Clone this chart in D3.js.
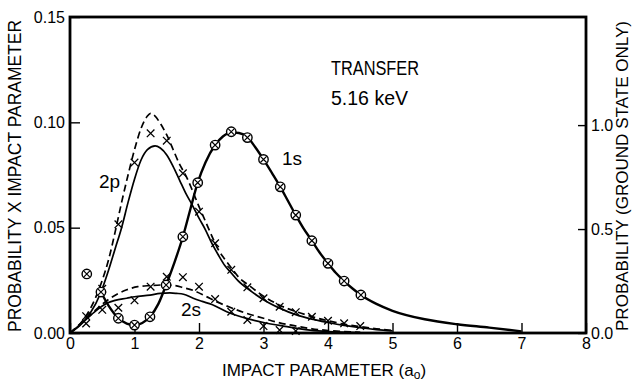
<!DOCTYPE html>
<html><head><meta charset="utf-8">
<script src="https://cdn.jsdelivr.net/npm/d3@7"></script>
<style>body{margin:0;background:#fff}svg{display:block}text{font-family:"Liberation Sans",Arial,sans-serif;fill:#000}</style>
</head><body><svg id="c" width="634" height="383"></svg>
<script>
// ---- data ----
const xTicks = [0,1,2,3,4,5,6,7,8];
const yLeftTicks = [0,0.05,0.10,0.15];
const yRightTicks = [0,0.5,1.0];
// 2p (P x b, left axis)
const p2Solid = [[0,0],[0.2,0.005],[0.4,0.014],[0.5,0.021],[0.6,0.030],[0.7,0.040],[0.8,0.050],[0.9,0.062],[1.0,0.073],[1.1,0.082],[1.2,0.087],[1.32,0.0888],[1.4,0.0878],[1.5,0.0845],[1.6,0.079],[1.7,0.0725],[1.8,0.066],[1.9,0.0605],[2.0,0.0545],[2.1,0.049],[2.2,0.0425],[2.3,0.037],[2.4,0.032],[2.5,0.0285],[2.6,0.025],[2.8,0.020],[3.0,0.0158],[3.25,0.0118],[3.5,0.0087],[3.75,0.0066],[4.0,0.005],[4.25,0.0036],[4.5,0.0025],[4.75,0.0016],[5.0,0.001]];
const p2Dashed = [[0,0],[0.2,0.006],[0.4,0.017],[0.5,0.025],[0.6,0.035],[0.7,0.048],[0.8,0.062],[0.9,0.075],[1.0,0.087],[1.1,0.097],[1.2,0.103],[1.25,0.1043],[1.3,0.1035],[1.4,0.0995],[1.5,0.094],[1.6,0.087],[1.7,0.080],[1.8,0.0745],[1.9,0.0675],[2.0,0.060],[2.1,0.053],[2.2,0.046],[2.3,0.0395],[2.4,0.035],[2.5,0.031],[2.6,0.027],[2.8,0.022],[3.0,0.0175],[3.25,0.0132],[3.5,0.0102],[3.75,0.0078],[4.0,0.0058],[4.25,0.0042],[4.5,0.0030],[4.75,0.002],[5.0,0.0012]];
const p2Cross = [[0.25,0.008],[0.5,0.021],[0.75,0.0516],[1.0,0.0809],[1.25,0.0948],[1.5,0.0913],[1.75,0.0758],[2.0,0.0576],[2.25,0.0426],[2.5,0.030],[2.75,0.0217],[3.0,0.0165],[3.25,0.0125],[3.5,0.0099],[3.75,0.0077],[4.0,0.0058],[4.25,0.0046],[4.5,0.0033]];
// 2s (P x b, left axis)
const s2Solid = [[0,0],[0.2,0.005],[0.4,0.0105],[0.57,0.0141],[0.7,0.0155],[0.88,0.0165],[1.0,0.0172],[1.24,0.018],[1.4,0.0188],[1.55,0.019],[1.65,0.0188],[1.76,0.0184],[1.91,0.0165],[2.05,0.015],[2.2,0.0135],[2.43,0.0101],[2.6,0.0082],[2.75,0.0068],[3.0,0.005],[3.31,0.0033],[3.72,0.0014],[4.0,0.0007],[4.5,0.0002]];
const s2Dashed = [[0,0],[0.2,0.0055],[0.4,0.011],[0.6,0.016],[0.88,0.0205],[1.05,0.022],[1.24,0.0225],[1.45,0.0228],[1.6,0.0226],[1.76,0.0215],[1.91,0.0202],[2.1,0.0175],[2.27,0.0149],[2.48,0.0122],[2.69,0.0098],[3.0,0.007],[3.25,0.0048],[3.51,0.0033],[3.75,0.002],[4.0,0.0012],[4.5,0.0003]];
const s2Cross = [[0.25,0.0045],[0.5,0.011],[0.75,0.012],[1.0,0.0155],[1.25,0.022],[1.5,0.0267],[1.75,0.0265],[2.0,0.022],[2.25,0.0161],[2.5,0.0101],[2.75,0.0062],[3.0,0.0033],[3.25,0.0014],[3.5,0.001]];
// 1s (probability, right axis)
const s1Line = [[0.48,0.197],[0.6,0.13],[0.75,0.071],[0.88,0.045],[1.0,0.038],[1.12,0.048],[1.24,0.078],[1.37,0.14],[1.49,0.231],[1.62,0.34],[1.75,0.463],[1.87,0.6],[1.98,0.723],[2.1,0.82],[2.25,0.904],[2.37,0.945],[2.5,0.965],[2.62,0.962],[2.75,0.942],[2.87,0.895],[3.0,0.835],[3.13,0.77],[3.26,0.703],[3.38,0.635],[3.5,0.567],[3.62,0.503],[3.75,0.444],[3.87,0.387],[4.0,0.335],[4.12,0.29],[4.25,0.25],[4.38,0.214],[4.51,0.183],[4.75,0.14],[5.0,0.107],[5.5,0.066],[6.0,0.042],[6.5,0.026],[7.0,0.008]];
const s1Marks = [[0.26,0.284],[0.48,0.197],[0.75,0.071],[1.0,0.038],[1.24,0.078],[1.49,0.231],[1.75,0.463],[1.98,0.723],[2.25,0.904],[2.5,0.968],[2.75,0.94],[3.0,0.835],[3.26,0.703],[3.5,0.567],[3.75,0.444],[4.0,0.335],[4.25,0.25],[4.51,0.183]];

// ---- chart ----
const svg = d3.select("#c");
const x = d3.scaleLinear().domain([0,8]).range([70,586]);
const yL = d3.scaleLinear().domain([0,0.15]).range([333,17]);
const yR = d3.scaleLinear().domain([0,1.52]).range([333,17]);

const fs = 16;
const gx = svg.append("g").attr("transform","translate(0,333)")
  .call(d3.axisBottom(x).tickValues(xTicks).tickFormat(d3.format("d")).tickSizeInner(-10).tickSizeOuter(0).tickPadding(5));
const gl = svg.append("g").attr("transform","translate(70,0)")
  .call(d3.axisLeft(yL).tickValues(yLeftTicks).tickFormat(d3.format(".2f")).tickSizeInner(-10).tickSizeOuter(0).tickPadding(5));
const gr = svg.append("g").attr("transform","translate(586,0)")
  .call(d3.axisRight(yR).tickValues(yRightTicks).tickFormat(d3.format(".1f")).tickSizeInner(-8).tickSizeOuter(0).tickPadding(5));
[gx,gl,gr].forEach(g=>{
  g.select(".domain").remove();
  g.selectAll("line").attr("stroke","#000").attr("stroke-width",1.4);
  g.selectAll("text").attr("font-size",fs).attr("font-family","Liberation Sans, Arial, sans-serif").attr("fill","#000");
});

// frame
svg.append("rect").attr("x",x(0)).attr("y",yL(0.15)).attr("width",x(8)-x(0)).attr("height",yL(0)-yL(0.15))
  .attr("fill","none").attr("stroke","#000").attr("stroke-width",2.8);

const lineL = d3.line().x(d=>x(d[0])).y(d=>yL(d[1])).curve(d3.curveMonotoneX);
const lineR = d3.line().x(d=>x(d[0])).y(d=>yR(d[1])).curve(d3.curveMonotoneX);

function path(data, gen, w, dash){
  svg.append("path").datum(data).attr("d",gen).attr("fill","none").attr("stroke","#000")
    .attr("stroke-width",w).attr("stroke-dasharray",dash||null).attr("stroke-linejoin","round");
}
path(p2Solid, lineL, 1.7);
path(p2Dashed, lineL, 1.7, "7,4");
path(s2Solid, lineL, 1.7);
path(s2Dashed, lineL, 1.7, "7,4");
path(s1Line, lineR, 2.4);

function crosses(data){
  const s = 3.8;
  svg.append("g").selectAll("path").data(data).join("path")
    .attr("d",d=>{const cx=x(d[0]),cy=yL(d[1]);return `M${cx-s},${cy-s}L${cx+s},${cy+s}M${cx-s},${cy+s}L${cx+s},${cy-s}`;})
    .attr("stroke","#000").attr("stroke-width",1.3).attr("fill","none");
}
crosses(p2Cross);
crosses(s2Cross);

const om = svg.append("g").selectAll("g").data(s1Marks).join("g")
  .attr("transform",d=>`translate(${x(d[0])},${yR(d[1])})`);
om.append("circle").attr("r",4.7).attr("fill","#fff").attr("stroke","#000").attr("stroke-width",1.4);
const r2 = 3.1;
om.append("path").attr("d",`M${-r2},${-r2}L${r2},${r2}M${-r2},${r2}L${r2},${-r2}`).attr("stroke","#000").attr("stroke-width",1.2);

// labels
svg.append("text").attr("x",99).attr("y",188).attr("font-size",19).text("2p");
svg.append("text").attr("x",181).attr("y",316).attr("font-size",19).text("2s");
svg.append("text").attr("x",282).attr("y",165).attr("font-size",19).text("1s");
svg.append("text").attr("x",331).attr("y",75).attr("font-size",20).attr("textLength",88).attr("lengthAdjust","spacingAndGlyphs").text("TRANSFER");
svg.append("text").attr("x",331).attr("y",105).attr("font-size",20).attr("textLength",77).attr("lengthAdjust","spacingAndGlyphs").text("5.16 keV");

svg.append("text").attr("transform","translate(21,176) rotate(-90)").attr("text-anchor","middle")
  .attr("font-size",18).attr("textLength",312).attr("lengthAdjust","spacingAndGlyphs").text("PROBABILITY X IMPACT PARAMETER");
svg.append("text").attr("transform","translate(628,176) rotate(-90)").attr("text-anchor","middle")
  .attr("font-size",16).attr("textLength",310).attr("lengthAdjust","spacingAndGlyphs").text("PROBABILITY (GROUND STATE ONLY)");
const bt = svg.append("text").attr("x",324).attr("y",376).attr("text-anchor","middle").attr("font-size",17);
bt.append("tspan").text("IMPACT PARAMETER (a");
bt.append("tspan").attr("dy",3).attr("font-size",12).text("o");
bt.append("tspan").attr("dy",-3).text(")");
</script></body></html>
